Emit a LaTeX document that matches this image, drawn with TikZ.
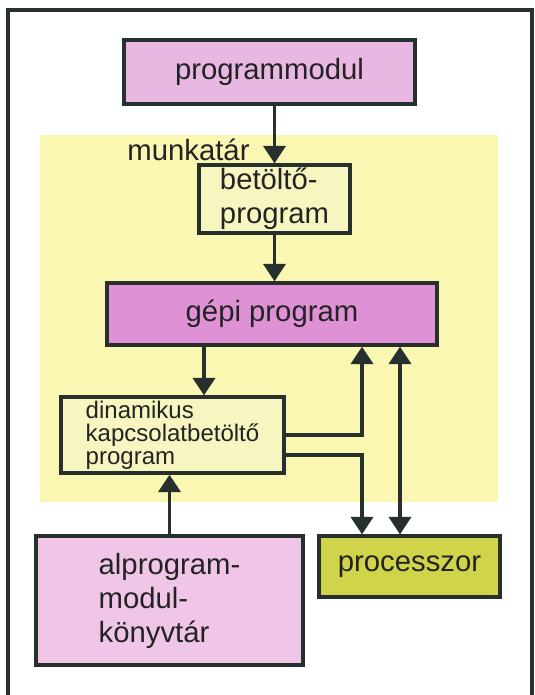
\documentclass[tikz,border=0pt]{standalone}
\usepackage{fontspec}
\setmainfont{Liberation Sans}
\usetikzlibrary{arrows.meta,calc}

\definecolor{vonal}{RGB}{40,48,45}
\definecolor{betu}{RGB}{35,35,35}
\definecolor{sarga}{RGB}{250,247,178}
\definecolor{halvany}{RGB}{247,245,192}
\definecolor{lila}{RGB}{232,184,226}
\definecolor{mlila}{RGB}{222,145,212}
\definecolor{rozsa}{RGB}{240,198,232}
\definecolor{zold}{RGB}{208,212,74}

\tikzset{
  doboz/.style={draw=vonal, line width=2.8pt, inner sep=0pt, text=betu,
    font=\fontsize{25}{29}\selectfont, align=left},
  nyil/.style={draw=vonal, line width=2.8pt, -{Triangle[width=19pt,length=15pt]}},
}

\begin{document}
\begin{tikzpicture}[x=0.03cm, y=-0.03cm]
    \useasboundingbox[fill=white] (0,0) rectangle (535,695);

    % munkatar
    \fill[sarga] (40,135) rectangle (498,502);
    \draw[vonal, line width=2.8pt] (8,695) |- (532,10) -- (532,695);

    \node[doboz, fill=lila, minimum width=8.73cm, minimum height=1.92cm]
        (progmod) at (269.5,72) {programmodul};
    \node[text=betu, font=\fontsize{25}{29}\selectfont, inner sep=0pt]
        (munka) at (188.5,150) {munkatár};
    \node[doboz, fill=halvany, minimum width=4.53cm, minimum height=2.04cm]
        (betolto) at (274.5,199) {betöltő-\\program};
    \node[doboz, fill=mlila, minimum width=9.9cm, minimum height=1.86cm]
        (gepi) at (272,314) {gépi program};
    \node[doboz, fill=halvany, minimum width=6.69cm, minimum height=2.28cm,
        font=\fontsize{20.5}{19.5}\selectfont]
        (dinam) at (172.5,435) {dinamikus\\kapcsolatbetöltő\\program};
    \node[doboz, fill=rozsa, minimum width=8.01cm, minimum height=3.87cm]
        (alprog) at (169.5,600.5) {alprogram-\\modul-\\könyvtár};
    \node[doboz, fill=zold, minimum width=5.43cm, minimum height=1.83cm]
        (proc) at (409.5,566.5) {processzor};

    \draw[nyil] (betolto.north |- progmod.south) -- (betolto.north);
    \draw[nyil] (betolto.south) -- (betolto.south |- gepi.north);
    \draw[nyil] ($(gepi.south)+(-68,0)$) -- ($(dinam.north)+(31.5,0)$);
    \draw[nyil] (dinam.east) -| ($(gepi.south)+(90,0)$);
    \draw[nyil] ($(dinam.east)+(0,20)$) -| ($(proc.north)+(-47.5,0)$);
    \draw[nyil, {Triangle[width=19pt,length=15pt]}-{Triangle[width=19pt,length=15pt]}]
        ($(gepi.south)+(128,0)$) -- ($(proc.north)+(-9.5,0)$);
    \draw[nyil] (alprog.north) -- (alprog.north |- dinam.south);
\end{tikzpicture}
\end{document}
